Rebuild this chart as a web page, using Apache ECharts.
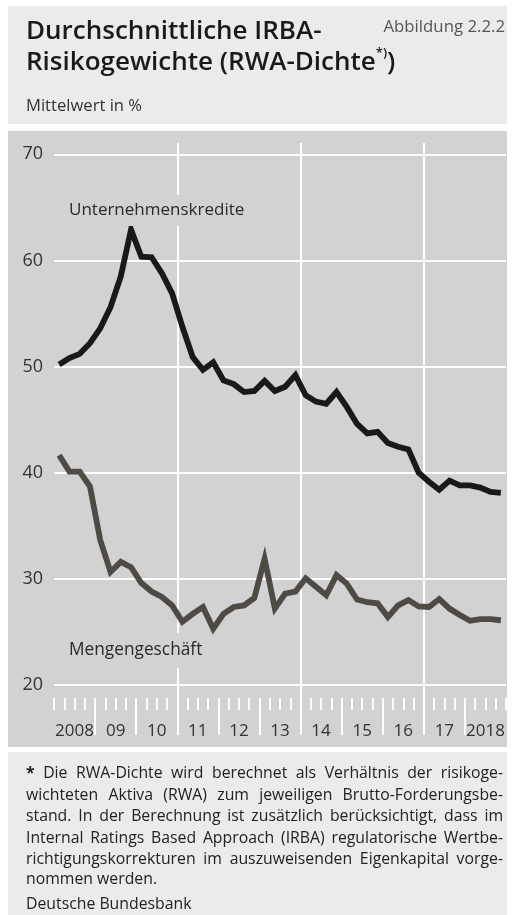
<!DOCTYPE html>
<html><head><meta charset="utf-8">
<script src="https://cdn.jsdelivr.net/npm/echarts@6/dist/echarts.min.js"></script>
<style>html,body{margin:0;padding:0;background:#fff}#c{width:515px;height:915px}</style>
</head><body><div id="c"></div>
<script>
// ---- data ----
const years = ['2008','09','10','11','12','13','14','15','16','17','2018'];
const quarterNames = ['Q1','Q2','Q3','Q4'];
const firstYear = 2008;
const unternehmenskredite = [50.2,50.8,51.2,52.2,53.6,55.6,58.5,62.9,60.35,60.3,58.8,56.9,53.75,50.9,49.7,50.4,48.7,48.35,47.6,47.7,48.65,47.7,48.1,49.2,47.3,46.7,46.5,47.6,46.2,44.6,43.7,43.85,42.8,42.45,42.2,40.0,39.15,38.4,39.25,38.8,38.8,38.6,38.2,38.1];
const mengengeschaeft = [41.65,40.1,40.1,38.7,33.65,30.65,31.6,31.1,29.6,28.8,28.3,27.5,25.95,26.7,27.35,25.3,26.7,27.35,27.5,28.2,31.9,27.2,28.6,28.8,30.05,29.25,28.45,30.35,29.55,28.05,27.8,27.7,26.4,27.5,28.0,27.4,27.35,28.1,27.2,26.6,26.05,26.2,26.2,26.1];
const yTicks = {min:20, max:70, interval:10};
const titleLine1 = 'Durchschnittliche IRBA-';
const titleLine2 = 'Risikogewichte (RWA-Dichte';
const figureNo = 'Abbildung 2.2.2';
const subtitle = 'Mittelwert in %';
const footLines = [
  '* Die RWA-Dichte wird berechnet als Verhältnis der risikoge-',
  'wichteten Aktiva (RWA) zum jeweiligen Brutto-Forderungsbe-',
  'stand. In der Berechnung ist zusätzlich berücksichtigt, dass im',
  'Internal Ratings Based Approach (IRBA) regulatorische Wertbe-',
  'richtigungskorrekturen im auszuweisenden Eigenkapital vorge-',
  'nommen werden.'
];
const source = 'Deutsche Bundesbank';

const quarters = [];
years.forEach((y, i) => quarterNames.forEach(q => quarters.push((firstYear + i) + ' ' + q)));

// ---- styles ----
const FONT = '"Open Sans", sans-serif';
const panelColor = '#d2d2d2';
const lightColor = '#ebebeb';
const white = '#ffffff';
const textDark = '#222222';

const chart = echarts.init(document.getElementById('c'));

// justified footnote: words laid out across the text column
const footSize = 15.8;
const footLeft = 26, footRight = 503;
const footY = [773, 795, 816.5, 838, 859.5, 879];
const mctx = document.createElement('canvas').getContext('2d');
function measure(t, bold) {
  mctx.font = (bold ? 'bold ' : '') + footSize + 'px "Open Sans"';
  return mctx.measureText(t).width;
}
const footGraphics = [];
footLines.forEach((line, i) => {
  const words = line.split(' ');
  const justify = i < footLines.length - 1;
  const widths = words.map((w, k) => measure(w, i === 0 && k === 0));
  const total = widths.reduce((a, b) => a + b, 0);
  const gap = justify ? (footRight - footLeft - total) / (words.length - 1) : measure(' ', false);
  let x = footLeft;
  words.forEach((w, k) => {
    const bold = i === 0 && k === 0;
    footGraphics.push({type:'text', z:20, x:x, y:footY[i],
      style:{text:w, fontFamily:FONT, fontSize:footSize, fontWeight: bold ? 'bold' : 'normal',
        fill:textDark, verticalAlign:'middle', align:'left'}});
    x += widths[k] + gap;
  });
});
footGraphics.push({type:'text', z:20, x:footLeft, y:904, style:{text:source, fontFamily:FONT, fontSize:footSize, fill:textDark, verticalAlign:'middle'}});

const option = {
  backgroundColor: white,
  animation: false,
  textStyle: {fontFamily: FONT},
  grid: [
    {left:54, right:9, top:154.3, bottom:230},
    {left:54, right:9, top:143, bottom:180},
    {left:54, right:9, top:698, bottom:180}
  ],
  xAxis: [
    {gridIndex:0, type:'category', data:quarters, boundaryGap:true, position:'bottom', offset:13,
      axisLine:{show:false}, axisTick:{show:true, interval:0, length:12, lineStyle:{color:white, width:2}},
      axisLabel:{show:false}, splitLine:{show:false}},
    {gridIndex:0, type:'category', data:years, boundaryGap:true, position:'bottom', offset:35,
      axisLine:{show:false}, axisTick:{show:false},
      axisLabel:{show:true, interval:0, margin:2.5, fontSize:17, color:'#333', fontFamily:FONT}, splitLine:{show:false}},
    {gridIndex:1, type:'value', min:0, max:11, interval:3,
      axisLine:{show:false}, axisTick:{show:false}, axisLabel:{show:false},
      splitLine:{show:true, showMinLine:false, showMaxLine:false, lineStyle:{color:white, width:2}}},
    {gridIndex:2, type:'value', min:0, max:11, interval:1,
      axisLine:{show:false}, axisTick:{show:false}, axisLabel:{show:false},
      splitLine:{show:true, showMinLine:false, showMaxLine:false, lineStyle:{color:white, width:2}}}
  ],
  yAxis: [
    {gridIndex:0, type:'value', min:yTicks.min, max:yTicks.max, interval:yTicks.interval,
      axisLine:{show:false}, axisTick:{show:false},
      axisLabel:{margin:11, fontSize:18, color:'#333', fontFamily:FONT},
      splitLine:{show:true, lineStyle:{color:white, width:2}}},
    {gridIndex:1, type:'value', axisLine:{show:false}, axisTick:{show:false}, axisLabel:{show:false}, splitLine:{show:false}},
    {gridIndex:2, type:'value', axisLine:{show:false}, axisTick:{show:false}, axisLabel:{show:false}, splitLine:{show:false}}
  ],
  series: [
    {name:'Unternehmenskredite', type:'line', xAxisIndex:0, yAxisIndex:0, data:unternehmenskredite,
      symbol:'none', z:5, lineStyle:{color:'#1b1918', width:5.8, join:'miter', cap:'butt'}},
    {name:'Mengengeschäft', type:'line', xAxisIndex:0, yAxisIndex:0, data:mengengeschaeft,
      symbol:'none', z:4, lineStyle:{color:'#4e4b47', width:5.8, join:'miter', cap:'butt'}}
  ],
  graphic: [
    {type:'rect', z:-100, shape:{x:8, y:6, width:499, height:118}, style:{fill:lightColor}},
    {type:'rect', z:-100, shape:{x:8, y:131, width:499, height:616}, style:{fill:panelColor}},
    {type:'rect', z:-100, shape:{x:8, y:752, width:499, height:163}, style:{fill:lightColor}},
    {type:'text', z:20, x:26, y:31.3, style:{text:titleLine1, fontFamily:FONT, fontSize:26, fontWeight:600, fill:'#1a1a1a', verticalAlign:'middle'}},
    {type:'text', z:20, x:26, y:63, style:{text:'{t|' + titleLine2 + '}{s|*)}{t|)}', verticalAlign:'middle',
      rich:{t:{fontFamily:FONT, fontSize:26, fontWeight:600, fill:'#1a1a1a', lineHeight:32},
            s:{fontFamily:FONT, fontSize:13, fontWeight:600, fill:'#1a1a1a', verticalAlign:'top', lineHeight:32}}}},
    {type:'text', z:20, x:505, y:27, style:{text:figureNo, fontFamily:FONT, fontSize:16.8, fill:'#555', align:'right', verticalAlign:'middle'}},
    {type:'text', z:20, x:26, y:106.5, style:{text:subtitle, fontFamily:FONT, fontSize:16.6, fill:'#333', verticalAlign:'middle'}},
    {type:'text', z:20, x:66, y:210.5, style:{text:'Unternehmenskredite', fontFamily:FONT, fontSize:17, fill:'#2a2a2a', verticalAlign:'middle',
      backgroundColor:panelColor, padding:[7,3,7,3]}},
    {type:'text', z:20, x:66, y:650.5, style:{text:'Mengengeschäft', fontFamily:FONT, fontSize:17.3, fill:'#2a2a2a', verticalAlign:'middle',
      backgroundColor:panelColor, padding:[9,3,9,3]}}
  ].concat(footGraphics)
};
chart.setOption(option);
</script>
</body></html>
